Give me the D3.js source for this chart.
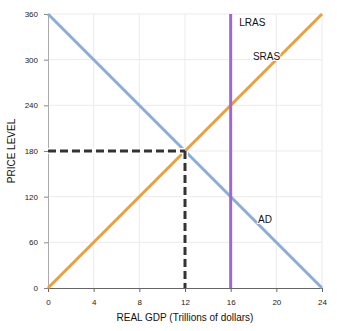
<!DOCTYPE html>
<html><head><meta charset="utf-8">
<script src="https://cdn.jsdelivr.net/npm/d3@7"></script>
<style>body{margin:0;background:#fff}svg{display:block;font-family:"Liberation Sans",Arial,sans-serif}</style>
</head><body><svg id="c" width="341" height="331"></svg>
<script>
const xTicks = [0,4,8,12,16,20,24];
const yTicks = [0,60,120,180,240,300,360];
const adX = [0,24], adY = [360,0];
const srasX = [0,24], srasY = [0,360];
const lrasX = 16;
const eqX = 12, eqY = 180;
const labels = [{t:"LRAS",x:16.75,y:344},{t:"SRAS",x:17.95,y:300},{t:"AD",x:18.4,y:85}];

const svg = d3.select("#c");
const L=48,R=322,T=14,B=288;
const x = d3.scaleLinear().domain([0,24]).range([L,R]);
const y = d3.scaleLinear().domain([0,360]).range([B,T]);

// grid
svg.append("g").selectAll("line").data(xTicks.slice(1)).join("line")
  .attr("x1",d=>x(d)).attr("x2",d=>x(d)).attr("y1",T).attr("y2",B).attr("stroke","#ebebeb");
svg.append("g").selectAll("line").data(yTicks.slice(1)).join("line")
  .attr("x1",L).attr("x2",R).attr("y1",d=>y(d)).attr("y2",d=>y(d)).attr("stroke","#ebebeb");

// axes
const ya = svg.append("g").attr("transform",`translate(${L},0)`)
  .call(d3.axisLeft(y).tickValues(yTicks).tickSize(4).tickPadding(6));
ya.select(".domain").attr("stroke","#aaa");
ya.selectAll(".tick line").attr("stroke","#888");
ya.selectAll("text").attr("font-size",8).attr("fill","#222").attr("font-family","Liberation Sans, Arial, sans-serif");
const xa = svg.append("g").attr("transform",`translate(0,${B})`)
  .call(d3.axisBottom(x).tickValues(xTicks).tickSize(4).tickPadding(7));
xa.select(".domain").attr("stroke","#666");
xa.selectAll(".tick line").attr("stroke","#666");
xa.selectAll("text").attr("font-size",8).attr("fill","#222").attr("font-family","Liberation Sans, Arial, sans-serif");

const line = d3.line().x(d=>x(d[0])).y(d=>y(d[1]));
// SRAS
svg.append("path").datum(d3.zip(srasX,srasY)).attr("d",line).attr("stroke","#f29e38").attr("stroke-width",3).attr("fill","none");
// AD
svg.append("path").datum(d3.zip(adX,adY)).attr("d",line).attr("stroke","#8caed6").attr("stroke-width",3).attr("fill","none");
// LRAS
svg.append("path").datum([[lrasX,0],[lrasX,360]]).attr("d",line).attr("stroke","#a266d2").attr("stroke-width",3).attr("fill","none");
// dashed equilibrium
const eq = [[[0,eqY],[eqX,eqY]],[[eqX,eqY],[eqX,0]]];
eq.forEach(seg=>{
  svg.append("path").datum(seg).attr("d",line).attr("stroke","#fff").attr("stroke-width",6).attr("fill","none").attr("stroke-dasharray","10,2");
});
eq.forEach(seg=>{
  svg.append("path").datum(seg).attr("d",line).attr("stroke","#333").attr("stroke-width",3).attr("fill","none").attr("stroke-dasharray","8,4");
});

// labels
svg.append("g").selectAll("text").data(labels).join("text")
  .attr("x",d=>x(d.x)).attr("y",d=>y(d.y)).text(d=>d.t)
  .attr("font-size",10).attr("fill","#111")
  .attr("stroke","#fff").attr("stroke-width",2).attr("paint-order","stroke");

// titles
svg.append("text").attr("x",(L+R)/2).attr("y",321).attr("text-anchor","middle").attr("font-size",10).attr("fill","#111").text("REAL GDP (Trillions of dollars)");
svg.append("text").attr("transform",`translate(15,${(T+B)/2}) rotate(-90)`).attr("text-anchor","middle").attr("font-size",10).attr("fill","#111").text("PRICE LEVEL");
</script></body></html>
